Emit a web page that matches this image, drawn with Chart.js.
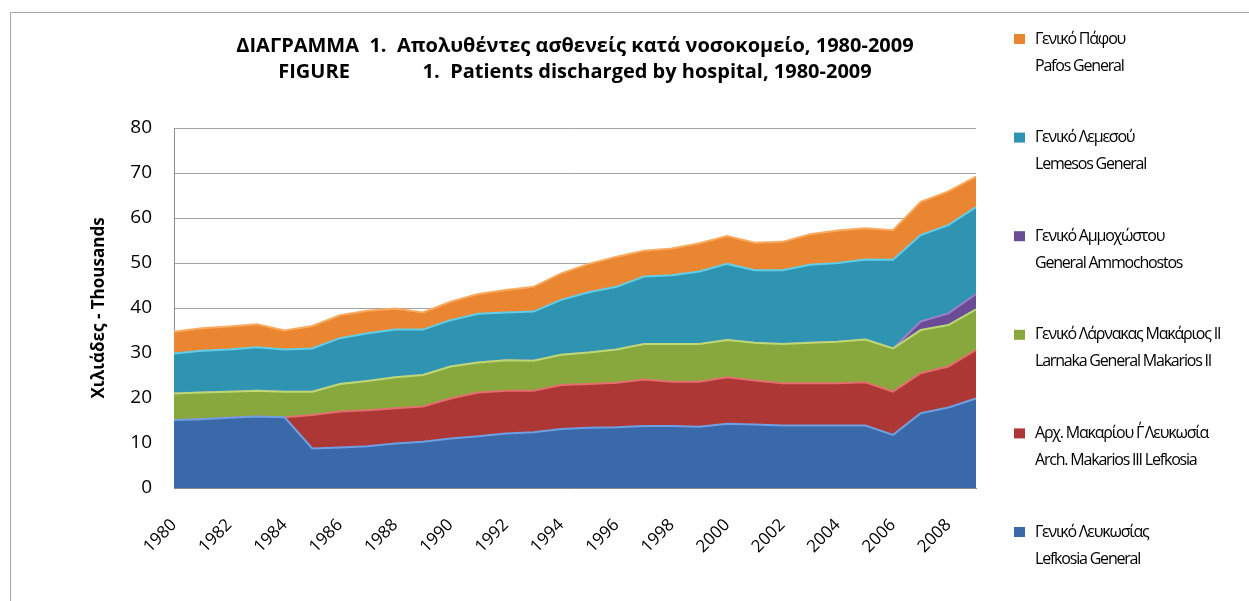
<!DOCTYPE html>
<html>
<head>
<meta charset="utf-8">
<script src="https://cdn.jsdelivr.net/npm/chart.js@4.4.1/dist/chart.umd.min.js"></script>
<style>
    body { margin: 0; background: #ffffff; }
    #wrap { width: 1249px; height: 601px; }
</style>
</head>
<body>
<div id="wrap"><canvas id="dataChart" width="1249" height="601"></canvas></div>
<script>
// years on the category axis
const years = [];
for (let y = 1980; y <= 2009; y++) years.push(String(y));

// thousands of patients discharged
const lefkosiaGeneral = [15.1, 15.3, 15.6, 15.9, 15.7, 8.8, 9.0, 9.3, 9.9, 10.3, 11.0, 11.5, 12.1, 12.4, 13.1, 13.4, 13.5, 13.8, 13.8, 13.6, 14.3, 14.1, 13.9, 13.9, 13.9, 13.9, 11.8, 16.6, 17.9, 19.9];
const archMakarios = [0, 0, 0, 0, 0, 7.4, 8.0, 8.0, 7.8, 7.8, 8.9, 9.7, 9.5, 9.2, 9.8, 9.7, 9.9, 10.3, 9.8, 10.0, 10.3, 9.8, 9.4, 9.4, 9.4, 9.6, 9.6, 8.9, 9.1, 10.8];
const larnakaGeneral = [5.9, 5.9, 5.8, 5.7, 5.7, 5.2, 6.1, 6.5, 6.9, 7.0, 7.1, 6.7, 6.8, 6.7, 6.7, 7.0, 7.4, 7.9, 8.4, 8.4, 8.3, 8.4, 8.7, 9.0, 9.2, 9.5, 9.6, 9.6, 9.2, 9.0];
const ammochostos = [0, 0, 0, 0, 0, 0, 0, 0, 0, 0, 0, 0, 0, 0, 0, 0, 0, 0, 0, 0, 0, 0, 0, 0, 0, 0, 0, 1.9, 2.6, 3.4];
const lemesosGeneral = [8.9, 9.3, 9.4, 9.7, 9.4, 9.6, 10.2, 10.6, 10.6, 10.1, 10.3, 10.8, 10.6, 10.9, 12.2, 13.4, 13.9, 15.0, 15.3, 16.1, 16.9, 16.1, 16.4, 17.3, 17.5, 17.8, 19.7, 19.2, 19.6, 19.3];
const pafosGeneral = [4.8, 5.0, 5.1, 5.1, 4.2, 5.0, 5.1, 5.0, 4.7, 3.8, 4.1, 4.4, 5.0, 5.5, 5.9, 6.3, 6.7, 5.7, 5.9, 6.3, 6.2, 6.1, 6.3, 6.8, 7.2, 6.9, 6.6, 7.4, 7.5, 6.8];

const yTicks = [0, 10, 20, 30, 40, 50, 60, 70, 80];

const titleLines = [
    "ΔΙΑΓΡΑΜΜΑ  1.  Απολυθέντες ασθενείς κατά νοσοκομείο, 1980-2009",
    "FIGURE              1.  Patients discharged by hospital, 1980-2009"
];

// bottom of the stack first
const series = [
    { greek: "Γενικό Λευκωσίας", english: "Lefkosia General", data: lefkosiaGeneral, fill: "#3a69aa", edge: "#6e9fe0" },
    { greek: "Αρχ. Μακαρίου Γ΄ Λευκωσία", english: "Arch. Makarios III Lefkosia", data: archMakarios, fill: "#ad3735", edge: "#e2706d" },
    { greek: "Γενικό Λάρνακας Μακάριος ΙΙ", english: "Larnaka General Makarios II", data: larnakaGeneral, fill: "#88a83d", edge: "#bbd976" },
    { greek: "Γενικό Αμμοχώστου", english: "General Ammochostos", data: ammochostos, fill: "#6a4b95", edge: "#9d80c6" },
    { greek: "Γενικό Λεμεσού", english: "Lemesos General", data: lemesosGeneral, fill: "#2f94b1", edge: "#62cde8" },
    { greek: "Γενικό Πάφου", english: "Pafos General", data: pafosGeneral, fill: "#ea8631", edge: "#f9aa5e" }
];

const FONT = "'Open Sans', 'Noto Sans', sans-serif";

// outer frame, title and the two-line legend on the right
const decorPlugin = {
    id: "decor",
    beforeDraw(chart) {
        const ctx = chart.ctx;
        ctx.save();
        ctx.strokeStyle = "#a6a6a6";
        ctx.lineWidth = 1;
        ctx.strokeRect(10.5, 12.5, 1400, 800);
        ctx.restore();
    },
    afterDraw(chart) {
        const ctx = chart.ctx;
        const area = chart.chartArea;
        ctx.save();
        ctx.fillStyle = "#000";
        ctx.textAlign = "center";
        ctx.textBaseline = "middle";
        ctx.font = "bold 20px " + FONT;
        const cx = (area.left + area.right) / 2;
        ctx.fillText(titleLines[0], cx, 46);
        ctx.fillText(titleLines[1], cx, 72);

        // legend, top item is the top of the stack
        ctx.textAlign = "left";
        ctx.font = "16px " + FONT;
        ctx.letterSpacing = "-1.2px";
        const items = chart.data.datasets.slice().reverse();
        items.forEach((ds, i) => {
            const y = 39 + i * 98.6;
            ctx.fillStyle = ds.backgroundColor;
            ctx.fillRect(1014, y - 5, 11, 10);
            ctx.fillStyle = "#000";
            ctx.fillText(ds.label[0], 1035, y);
            ctx.fillText(ds.label[1], 1035, y + 27);
        });
        ctx.restore();
    }
};

const datasets = series.map((s, i) => ({
    label: [s.greek, s.english],
    data: s.data,
    backgroundColor: s.fill,
    borderColor: s.edge,
    borderWidth: 2,
    fill: i === 0 ? "origin" : "-1",
    pointRadius: 0,
    tension: 0
}));

new Chart(document.getElementById("dataChart"), {
    type: "line",
    data: { labels: years, datasets: datasets },
    options: {
        responsive: false,
        animation: false,
        layout: { padding: { left: 85, right: 273, top: 128, bottom: 0 } },
        plugins: {
            legend: { display: false },
            tooltip: { enabled: false }
        },
        scales: {
            x: {
                grid: { display: false, drawTicks: false },
                border: { color: "#8c8c8c", width: 1 },
                ticks: {
                    autoSkip: false,
                    minRotation: 45,
                    maxRotation: 45,
                    padding: 27,
                    color: "#000",
                    font: { family: FONT, size: 17 },
                    callback: (v, i) => (i % 2 === 0 ? years[i] : "")
                },
                afterFit: s => { s.height = 113; }
            },
            y: {
                stacked: true,
                min: 0,
                max: 80,
                afterBuildTicks: s => { s.ticks = yTicks.map(v => ({ value: v })); },
                grid: { color: "#a3a3a3", lineWidth: 1, drawTicks: false },
                border: { color: "#8c8c8c", width: 1 },
                ticks: {
                    padding: 22,
                    color: "#000",
                    font: { family: FONT, size: 19 }
                },
                title: {
                    display: true,
                    text: "Χιλιάδες - Thousands",
                    color: "#000",
                    font: { family: FONT, size: 17, weight: "bold" }
                },
                afterFit: s => { s.width = 89; }
            }
        }
    },
    plugins: [decorPlugin]
});
</script>
</body>
</html>
